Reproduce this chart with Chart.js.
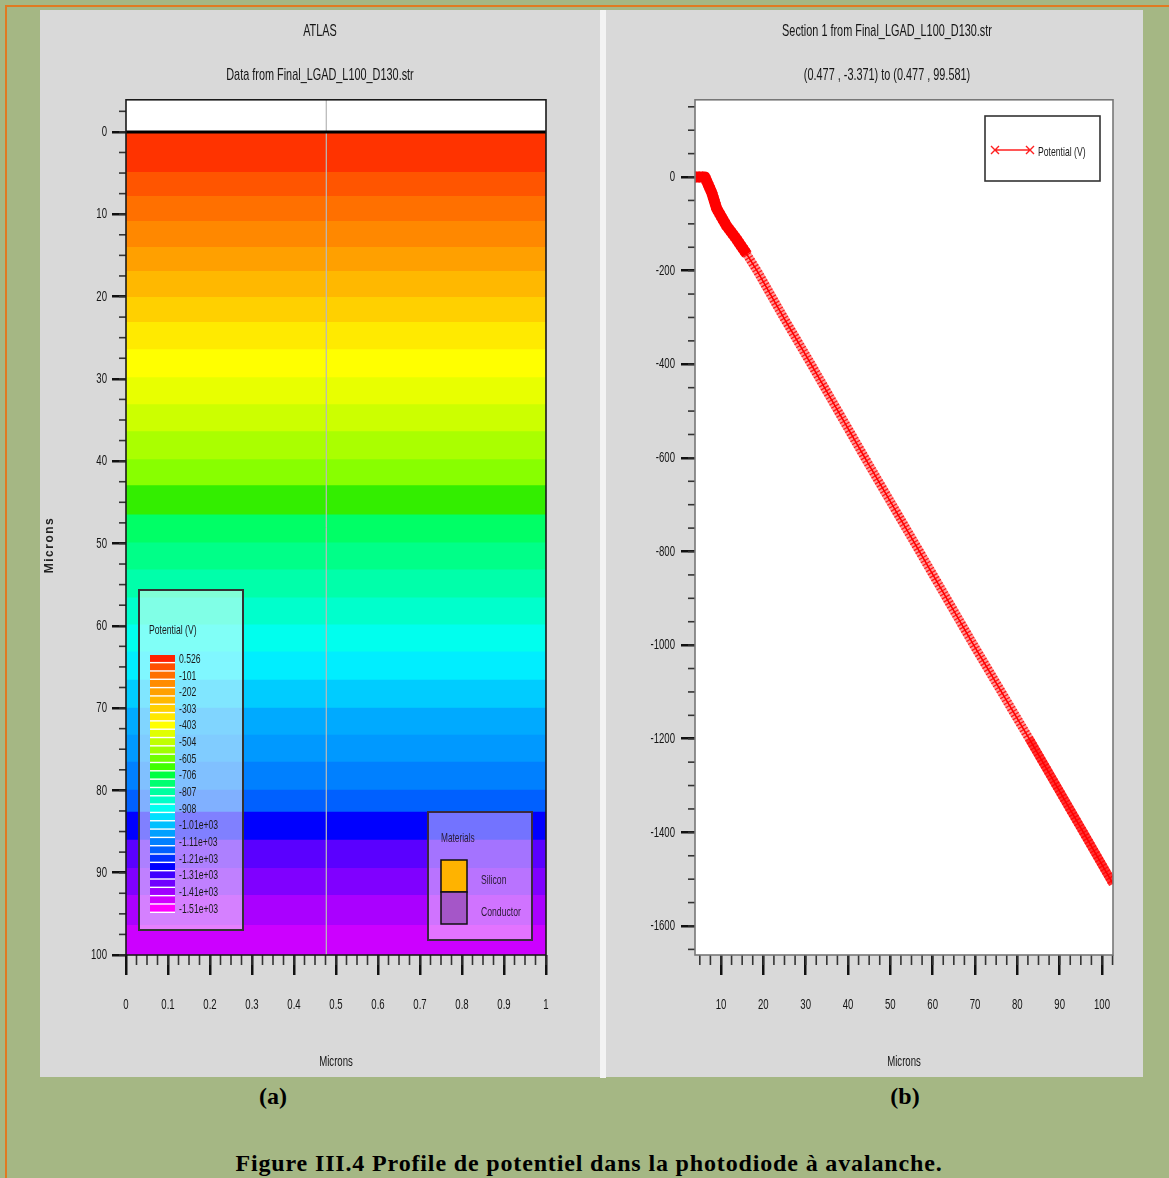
<!DOCTYPE html>
<html>
<head>
<meta charset="utf-8">
<script src="https://cdn.jsdelivr.net/npm/chart.js@4.4.0/dist/chart.umd.min.js"></script>
<style>
  html, body { margin: 0; padding: 0; }
  body { width: 1169px; height: 1178px; background: #a5b784; position: relative; overflow: hidden; }
  .frame { position: absolute; left: 5px; top: 5px; right: -10px; bottom: -10px;
           border-top: 2px solid #e07a22; border-left: 2px solid #e07a22; }
  .panel { position: absolute; top: 10px; height: 1067px; background: #d9d9d9; }
  #panelA { left: 40px; width: 560px; }
  #panelB { left: 606px; width: 537px; }
  #gap { position: absolute; left: 600px; top: 10px; width: 6px; height: 1068px; background: #f3f3f3; }
  .tag { position: absolute; top: 1083px; width: 80px; height: 28px; line-height: 28px; text-align: center;
         font: bold 24px "Liberation Serif", "Times New Roman", serif; color: #000; }
  #caption { position: absolute; left: 0; width: 1178px; top: 1150px; line-height: 26px; text-align: center;
             font: bold 24px "Liberation Serif", "Times New Roman", serif; letter-spacing: 0.85px; color: #000; }
  canvas { display: block; }
</style>
</head>
<body>
<div class="frame"></div>
<div class="panel" id="panelA"><canvas id="mapChart" width="560" height="1067"></canvas></div>
<div id="gap"></div>
<div class="panel" id="panelB"><canvas id="lineChart" width="537" height="1067"></canvas></div>
<div class="tag" style="left:233px">(a)</div>
<div class="tag" style="left:865px">(b)</div>
<div id="caption">Figure III.4 Profile de potentiel dans la photodiode à avalanche.</div>

<script>
// ---- (a) potential map, depth bands ----
const depthTicks = [0, 10, 20, 30, 40, 50, 60, 70, 80, 90, 100];
const widthTicks = [0, 0.1, 0.2, 0.3, 0.4, 0.5, 0.6, 0.7, 0.8, 0.9, 1];
const bandEdges = [0, 4.87, 7.79, 10.83, 13.99, 16.91, 20.07, 23.11, 26.4, 29.81, 33.09,
  36.37, 39.78, 42.94, 46.47, 49.88, 53.16, 56.57, 59.85, 63.14, 66.55,
  69.95, 73.24, 76.52, 79.93, 82.6, 86.01, 89.42, 92.7, 96.35, 100];
const bandColors = ["#ff3300", "#ff5500", "#ff7000", "#ff8800", "#ffa000", "#ffb800",
  "#ffd000", "#ffea00", "#ffff00", "#e8ff00", "#ccff00", "#aaff00", "#88ff00",
  "#33ee00", "#00ff66", "#00ff88", "#00ffaa", "#00ffcc", "#00ffee", "#00eeff",
  "#00ccff", "#00aaff", "#0099ff", "#0080ff", "#0060ff", "#0000ff", "#5a00ff",
  "#8000ff", "#aa00ff", "#cc00ff", "#ee00ff"];
const levelColors = ["#ff2000", "#ff5000", "#ff7000", "#ff8c00", "#ffa000", "#ffb800",
  "#ffd000", "#ffe800", "#ffff00", "#e0ff00", "#c0ff00", "#a0ff00", "#70ff00",
  "#40ff00", "#00ff40", "#00ff70", "#00ffa0", "#00ffc8", "#00fff0", "#00e0ff",
  "#00c0ff", "#00a0ff", "#0080ff", "#0060ff", "#0030ff", "#0000ff", "#4000ff",
  "#7000ff", "#a000ff", "#d000ff", "#ff00ff"];
const levelLabels = ["0.526", "-101", "-202", "-303", "-403", "-504", "-605", "-706",
  "-807", "-908", "-1.01e+03", "-1.11e+03", "-1.21e+03", "-1.31e+03", "-1.41e+03", "-1.51e+03"];
const materialNames = ["Silicon", "Conductor"];
const materialColors = ["#ffb300", "#a556c8"];
const sectionX = 0.477;
const depthMin = -3.9;

// ---- (b) cut line ----
const distance = [3.86, 6.2, 7.8, 9.0, 11.3, 13.7, 16.1, 18.7, 24.6, 31.3, 44.0, 56.9, 69.7, 82.8, 95.6, 102.6];
const potential = [0, 0, -33, -68, -104, -133, -165, -203, -297, -400, -600, -800, -1000, -1200, -1400, -1510];
const distanceTicks = [10, 20, 30, 40, 50, 60, 70, 80, 90, 100];
const potentialTicks = [0, -200, -400, -600, -800, -1000, -1200, -1400, -1600];

const SANS = '"Liberation Sans", Arial, sans-serif';
const SQUEEZE = 0.64; // the original uses a tall, very narrow face
Chart.defaults.font.family = SANS;
Chart.defaults.color = "#151515";
Chart.defaults.animation = false;

// squeeze every text the chart writes horizontally, around its anchor
function narrowText(canvas) {
  const ctx = canvas.getContext("2d");
  const raw = ctx.fillText.bind(ctx);
  ctx.rawFillText = raw;
  ctx.fillText = function (text, x, y, maxWidth) {
    this.save();
    this.translate(x, y);
    this.scale(SQUEEZE, 1);
    if (maxWidth === undefined) raw(text, 0, 0);
    else raw(text, 0, 0, maxWidth / SQUEEZE);
    this.restore();
  };
  return canvas;
}

const plotBg = {
  id: "plotBg",
  beforeDraw(chart) {
    const { ctx, chartArea: a } = chart;
    ctx.save();
    ctx.fillStyle = "#fff";
    ctx.fillRect(a.left, a.top, a.right - a.left, a.bottom - a.top);
    ctx.restore();
  },
};

// minor ticks + plot frame
const minorTicks = {
  id: "minorTicks",
  afterDraw(chart, args, opts) {
    const { ctx, chartArea: a, scales } = chart;
    ctx.save();
    ctx.strokeStyle = "#333";
    ctx.lineWidth = 1.6;
    for (const [id, m] of Object.entries(opts.axes || {})) {
      const s = scales[id];
      for (let k = 0; m.from + k * m.step <= m.to + 1e-9; k++) {
        const p = s.getPixelForValue(m.from + k * m.step);
        ctx.beginPath();
        if (s.isHorizontal()) {
          ctx.moveTo(p, a.bottom);
          ctx.lineTo(p, a.bottom + m.len);
        } else {
          ctx.moveTo(a.left, p);
          ctx.lineTo(a.left - m.len, p);
        }
        ctx.stroke();
      }
    }
    ctx.strokeStyle = opts.frame;
    ctx.lineWidth = opts.frameWidth;
    ctx.strokeRect(a.left, a.top, a.right - a.left, a.bottom - a.top);
    ctx.restore();
  },
};

function fixedSize(w, h) {
  return (s) => {
    if (w != null) s.width = w;
    if (h != null) s.height = h;
  };
}

function useTicks(values) {
  return (s) => { s.ticks = values.map((v) => ({ value: v })); };
}

// empty axis on the right, only to reserve the margin
function spacer(w) {
  return {
    type: "linear", position: "right", display: true,
    grid: { display: false }, ticks: { display: false }, border: { display: false },
    afterFit: fixedSize(w, null),
  };
}

const mapOverlay = {
  id: "mapOverlay",
  afterDatasetsDraw(chart) {
    const ctx = chart.ctx;
    ctx.save();
    // potential legend
    ctx.fillStyle = "rgba(255,255,255,0.5)";
    ctx.fillRect(99, 580, 104, 340);
    ctx.strokeStyle = "#333";
    ctx.lineWidth = 2;
    ctx.strokeRect(99, 580, 104, 340);
    ctx.fillStyle = "#1a1a1a";
    ctx.font = "13.5px " + SANS;
    ctx.textBaseline = "middle";
    ctx.textAlign = "left";
    ctx.fillText("Potential (V)", 109, 620);
    const top = 645, h = 258 / levelColors.length;
    ctx.fillStyle = "#fff";
    ctx.fillRect(110, top, 25, 258);
    levelColors.forEach((c, i) => {
      ctx.fillStyle = c;
      ctx.fillRect(110, top + i * h, 25, h - 1.4);
    });
    ctx.fillStyle = "#1a1a1a";
    levelLabels.forEach((t, i) => ctx.fillText(t, 139, top + i * 2 * h + h / 2));

    // materials legend
    ctx.fillStyle = "rgba(255,255,255,0.45)";
    ctx.fillRect(388, 802, 104, 128);
    ctx.strokeStyle = "#3a2a40";
    ctx.lineWidth = 2;
    ctx.strokeRect(388, 802, 104, 128);
    ctx.fillStyle = "#2a1a35";
    ctx.font = "13px " + SANS;
    ctx.fillText("Materials", 401, 828);
    materialNames.forEach((name, i) => {
      const y = 850 + i * 32;
      ctx.fillStyle = materialColors[i];
      ctx.fillRect(401, y, 26, 32);
      ctx.strokeStyle = "#111";
      ctx.lineWidth = 1.5;
      ctx.strokeRect(401, y, 26, 32);
      ctx.fillStyle = "#2a1a35";
      ctx.font = "13.5px " + SANS;
      ctx.fillText(name, 441, y + 20);
    });

    // y axis title (not squeezed)
    ctx.translate(10, 535);
    ctx.rotate(-Math.PI / 2);
    ctx.textAlign = "center";
    ctx.fillStyle = "#222";
    ctx.font = "bold 12px " + SANS;
    ctx.letterSpacing = "1.5px";
    ctx.rawFillText("Microns", 0, 0);
    ctx.restore();
  },
};

const lineOverlay = {
  id: "lineOverlay",
  afterDatasetsDraw(chart) {
    const ctx = chart.ctx;
    ctx.save();
    ctx.fillStyle = "#fff";
    ctx.fillRect(379, 106, 115, 65);
    ctx.strokeStyle = "#333";
    ctx.lineWidth = 1.6;
    ctx.strokeRect(379, 106, 115, 65);
    ctx.strokeStyle = "#ff2020";
    ctx.lineWidth = 1.4;
    ctx.beginPath();
    ctx.moveTo(389, 140);
    ctx.lineTo(424, 140);
    for (const cx of [389, 424]) {
      ctx.moveTo(cx - 4, 136); ctx.lineTo(cx + 4, 144);
      ctx.moveTo(cx + 4, 136); ctx.lineTo(cx - 4, 144);
    }
    ctx.stroke();
    ctx.fillStyle = "#1a1a1a";
    ctx.font = "13.5px " + SANS;
    ctx.textBaseline = "middle";
    ctx.fillText("Potential (V)", 432, 142);
    ctx.restore();
  },
};

const tickFont = { size: 15 };
const majorGrid = (len) => ({
  drawOnChartArea: false, drawTicks: true, tickLength: len,
  tickWidth: 2.5, lineWidth: 2.5, tickColor: "#111", color: "#111",
});
const titleFont = { size: 17, weight: "normal" };

// (a)
const mapSets = [
  {
    data: [{ x: 0, y: 0 }, { x: 1, y: 0 }],
    borderColor: "#000", borderWidth: 3, pointRadius: 0, fill: false,
  },
  {
    data: [{ x: sectionX, y: depthMin }, { x: sectionX, y: 100 }],
    borderColor: "rgba(185,185,185,0.7)", borderWidth: 1, pointRadius: 0, fill: false,
  },
].concat(bandColors.slice(0, bandEdges.length - 1).map((c, i) => ({
  data: [{ x: 0, y: bandEdges[i + 1] }, { x: 1, y: bandEdges[i + 1] }],
  fill: { value: bandEdges[0] },
  backgroundColor: c, borderWidth: 0, pointRadius: 0,
})));

new Chart(narrowText(document.getElementById("mapChart")), {
  type: "line",
  data: { datasets: mapSets },
  options: {
    responsive: false,
    layout: { padding: 0 },
    plugins: {
      legend: { display: false },
      tooltip: { enabled: false },
      title: { display: true, text: "ATLAS", font: titleFont,
               padding: { top: 11, bottom: 24 } },
      subtitle: { display: true, text: "Data from Final_LGAD_L100_D130.str", font: titleFont,
                  padding: { top: 0, bottom: 14 } },
      minorTicks: {
        frame: "#1a1a1a", frameWidth: 1.6,
        axes: { x: { from: 0.025, to: 1, step: 0.025, len: 10 }, y: { from: -2.5, to: 100, step: 2.5, len: 7 } },
      },
    },
    scales: {
      x: {
        type: "linear", min: 0, max: 1, position: "bottom",
        afterBuildTicks: useTicks(widthTicks), afterFit: fixedSize(null, 122),
        grid: majorGrid(20), border: { display: false },
        ticks: { font: tickFont, padding: 21, maxRotation: 0, autoSkip: false, callback: (v) => String(v) },
        title: { display: true, text: "Microns", font: tickFont, padding: { top: 0, bottom: 6 } },
      },
      y: {
        type: "linear", min: depthMin, max: 100, reverse: true,
        afterBuildTicks: useTicks(depthTicks), afterFit: fixedSize(86, null),
        grid: majorGrid(14), border: { display: false },
        ticks: { font: tickFont, padding: 5, autoSkip: false, callback: (v) => String(v) },
      },
      r: spacer(54),
    },
  },
  plugins: [plotBg, minorTicks, mapOverlay],
});

// (b)
const points = distance.map((d, i) => ({ x: d, y: potential[i] }));
const dense = (c) => c.p1.parsed.y > -190;
new Chart(narrowText(document.getElementById("lineChart")), {
  type: "line",
  data: {
    datasets: [
      {
        label: "Potential (V)", data: points, pointRadius: 0, tension: 0, fill: false,
        borderColor: "#ff0000", borderWidth: 1.5,
      },
      {
        // cross markers packed along the cut, seen as a hatched band
        data: points, pointRadius: 0, tension: 0, fill: false,
        borderColor: "rgba(255,0,0,0.85)", borderWidth: 9, borderDash: [1.3, 2.2],
        segment: { borderWidth: (c) => (dense(c) ? 11 : 9) },
      },
      {
        data: points, pointRadius: 0, tension: 0, fill: false, borderJoinStyle: "round",
        borderColor: "rgba(255,0,0,0.4)", borderWidth: 9,
        segment: {
          borderWidth: (c) => (dense(c) ? 11 : 9),
          borderColor: (c) => (dense(c) ? "#ff0000" : c.p0.parsed.y <= -1200 ? "rgba(255,0,0,0.8)" : "rgba(255,0,0,0.4)"),
        },
      },
    ],
  },
  options: {
    responsive: false,
    layout: { padding: { left: 25, right: 0, top: 0, bottom: 0 } },
    plugins: {
      legend: { display: false },
      tooltip: { enabled: false },
      title: { display: true, text: "Section 1 from Final_LGAD_L100_D130.str", font: titleFont,
               padding: { top: 11, bottom: 24 } },
      subtitle: { display: true, text: "(0.477 , -3.371) to (0.477 , 99.581)", font: titleFont,
                  padding: { top: 0, bottom: 14 } },
      minorTicks: {
        frame: "#777", frameWidth: 1.6,
        axes: { x: { from: 5, to: 102.5, step: 2.5, len: 10 }, y: { from: -1650, to: 150, step: 50, len: 7 } },
      },
    },
    scales: {
      x: {
        type: "linear", min: 3.86, max: 102.6, position: "bottom",
        afterBuildTicks: useTicks(distanceTicks), afterFit: fixedSize(null, 122),
        grid: majorGrid(20), border: { display: false },
        ticks: { font: tickFont, padding: 21, maxRotation: 0, autoSkip: false, callback: (v) => String(v) },
        title: { display: true, text: "Microns", font: tickFont, padding: { top: 0, bottom: 6 } },
      },
      y: {
        type: "linear", min: -1662, max: 165,
        afterBuildTicks: useTicks(potentialTicks), afterFit: fixedSize(64, null),
        grid: majorGrid(14), border: { display: false },
        ticks: { font: tickFont, padding: 6, autoSkip: false, callback: (v) => String(v) },
      },
      r: spacer(30),
    },
  },
  plugins: [plotBg, minorTicks, lineOverlay],
});
</script>
</body>
</html>
